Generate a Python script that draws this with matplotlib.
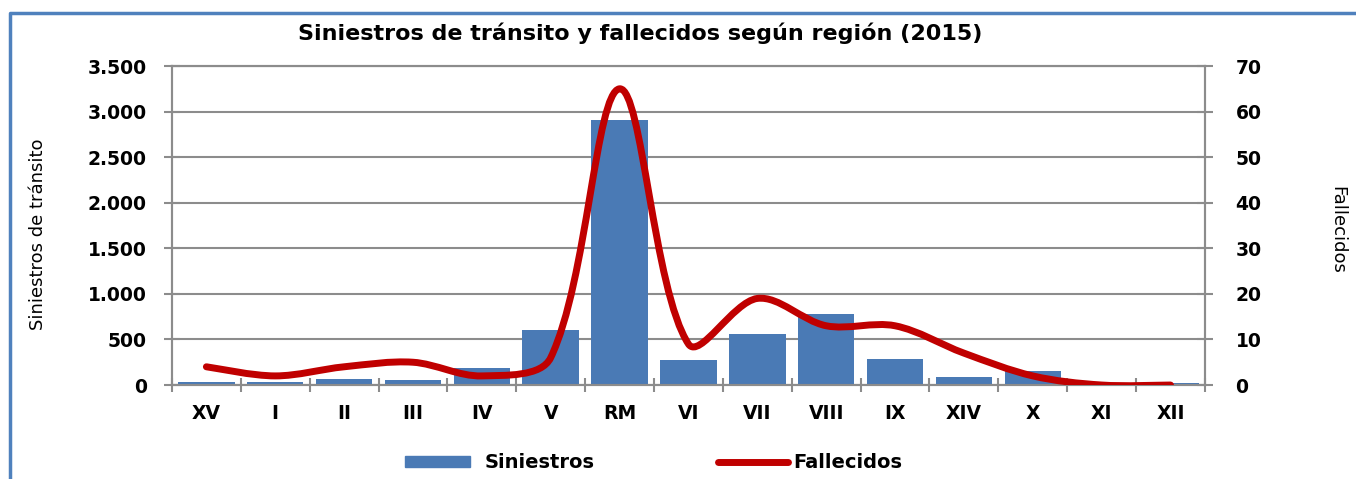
import matplotlib.pyplot as plt
from matplotlib.path import Path
from matplotlib.patches import PathPatch, Rectangle
from matplotlib.lines import Line2D
import numpy as np

regiones = ["XV", "I", "II", "III", "IV", "V", "RM", "VI", "VII", "VIII", "IX", "XIV", "X", "XI", "XII"]
siniestros = [35, 35, 70, 50, 190, 600, 2910, 275, 560, 780, 290, 85, 150, 5, 20]
fallecidos = [4, 2, 4, 5, 2, 6, 65, 9, 19, 13, 13, 7, 2, 0, 0]
izq_ticks = [0, 500, 1000, 1500, 2000, 2500, 3000, 3500]
izq_labels = ["0", "500", "1.000", "1.500", "2.000", "2.500", "3.000", "3.500"]
der_ticks = [0, 10, 20, 30, 40, 50, 60, 70]

azul = "#4A7AB5"
rojo = "#C00000"
gris = "#8C8C8C"

fig = plt.figure(figsize=(13.56, 4.79), dpi=100)
ax = fig.add_axes([0.1268, 0.1962, 0.7618, 0.666])
ax2 = ax.twinx()

x = np.arange(len(regiones))
ax.bar(x, siniestros, width=0.82, color=azul, zorder=2)
ax.set_xlim(-0.5, len(regiones) - 0.5)
ax.set_ylim(0, 3500)
ax.set_yticks(izq_ticks)
ax.set_yticklabels(izq_labels)
ax.yaxis.grid(True, color=gris, lw=1.5, zorder=0)
ax.set_axisbelow(True)
ax.set_xticks(x)
ax.set_xticklabels(regiones)
ax.set_xticks(np.arange(-0.5, len(regiones)), minor=True)
ax.tick_params(axis="x", which="major", length=0, pad=14, labelsize=13.5)
ax.tick_params(axis="x", which="minor", length=10, direction="inout", color=gris, width=1.5)
ax.tick_params(axis="y", length=12, direction="inout", color=gris, width=1.5, labelsize=13.5, pad=12)
for lab in ax.get_xticklabels() + ax.get_yticklabels():
    lab.set_fontweight("bold")
for s in ["left", "right", "bottom", "top"]:
    ax.spines[s].set_color(gris)
    ax.spines[s].set_linewidth(1.5)
    ax2.spines[s].set_color(gris)
    ax2.spines[s].set_linewidth(1.5)

ax2.set_ylim(0, 70)
ax2.set_yticks(der_ticks)
ax2.tick_params(axis="y", length=12, direction="inout", color=gris, width=1.5, labelsize=13.5, pad=16)
for lab in ax2.get_yticklabels():
    lab.set_fontweight("bold")

# suavizado tipo Excel: Bezier en coordenadas de pantalla
pts = ax2.transData.transform(np.column_stack([x, fallecidos]).astype(float))
verts = [pts[0]]
codes = [Path.MOVETO]
n = len(pts)
for i in range(n - 1):
    p0 = pts[i - 1] if i > 0 else pts[i]
    p1 = pts[i]
    p2 = pts[i + 1]
    p3 = pts[i + 2] if i + 2 < n else pts[i + 1]
    d01 = np.hypot(*(p1 - p0))
    d12 = np.hypot(*(p2 - p1))
    d23 = np.hypot(*(p3 - p2))
    c1 = p1 + (p2 - p0) * (d12 / (d01 + d12) if d01 > 0 else 0.5) / 3
    c2 = p2 - (p3 - p1) * (d12 / (d12 + d23) if d23 > 0 else 0.5) / 3
    verts += [c1, c2, p2]
    codes += [Path.CURVE4] * 3
verts = ax2.transData.inverted().transform(np.array(verts))
ax2.add_patch(PathPatch(Path(verts, codes), fill=False, edgecolor=rojo, lw=5, capstyle="round",
                        joinstyle="round", zorder=3))

fig.text(0.472, 0.93, "Siniestros de tránsito y fallecidos según región (2015)", ha="center", va="center",
         fontsize=16, fontweight="bold")
fig.text(0.028, 0.51, "Siniestros de tránsito", rotation=90, ha="center", va="center", fontsize=13)
fig.text(0.986, 0.52, "Fallecidos", rotation=-90, ha="center", va="center", fontsize=13)

# leyenda
fig.patches.append(Rectangle((405 / 1356, 1 - 467 / 479), 65 / 1356, 11 / 479, transform=fig.transFigure,
                             color=azul, figure=fig))
fig.text(485 / 1356, 1 - 462 / 479, "Siniestros", ha="left", va="center", fontsize=14, fontweight="bold")
fig.lines.append(Line2D([718 / 1356, 788 / 1356], [1 - 462 / 479] * 2, transform=fig.transFigure,
                        color=rojo, lw=5, solid_capstyle="round", figure=fig))
fig.text(793 / 1356, 1 - 462 / 479, "Fallecidos", ha="left", va="center", fontsize=14, fontweight="bold")

# marco azul
fig.lines.append(Line2D([10 / 1356, 10 / 1356, 1], [0, 1 - 13 / 479, 1 - 13 / 479], transform=fig.transFigure,
                        color="#4F81BD", lw=2.5, figure=fig))

fig.savefig("out.png", dpi=100)
